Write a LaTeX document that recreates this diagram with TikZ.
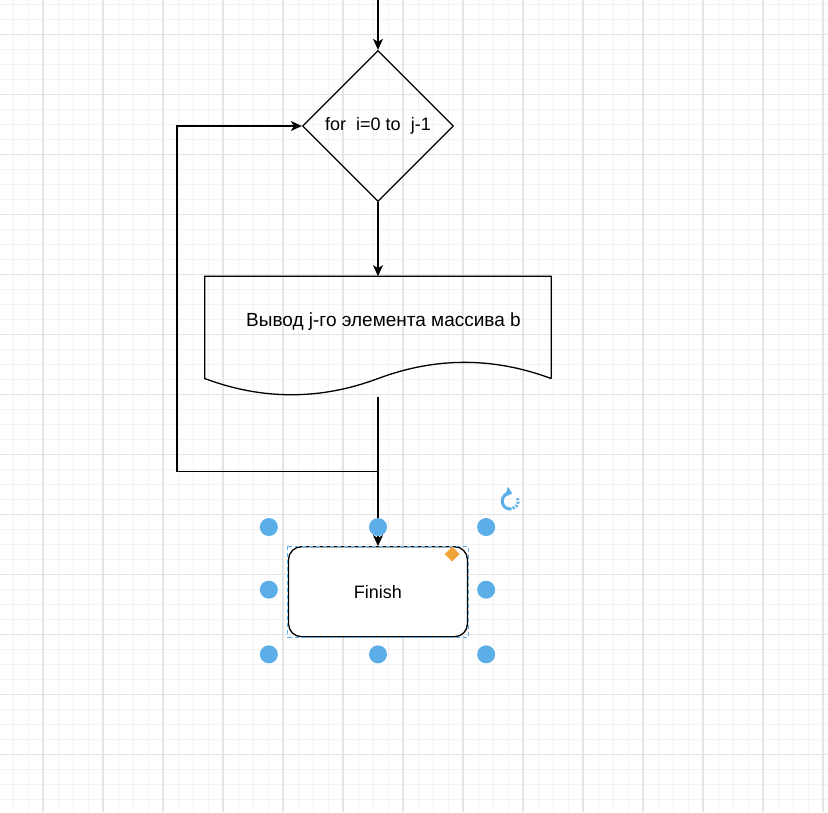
\documentclass[tikz,border=0pt]{standalone}
\usepackage{fontspec}
\setmainfont{Liberation Sans}
\usetikzlibrary{shapes.geometric, arrows.meta, positioning, calc}
\definecolor{gridmajor}{HTML}{E4E4E4}
\definecolor{gridminor}{HTML}{F3F3F3}
\definecolor{handleblue}{HTML}{5BAEE8}
\definecolor{handleorange}{HTML}{F2A33A}

\begin{document}
\begin{tikzpicture}[
    x=1pt, y=-1pt,
    font=\fontsize{18}{21}\selectfont,
    line/.style={line width=1.3pt, black},
    arrow/.style={line, -{Stealth[length=11pt, width=10pt, inset=3pt]}},
    decision/.style={diamond, draw, line width=1.3pt, minimum width=151pt, minimum height=151pt, inner sep=0pt, aspect=1},
    docbox/.style={rectangle, minimum width=346pt, minimum height=90pt, inner sep=0pt, font=\fontsize{19}{22}\selectfont},
    terminal/.style={rectangle, draw, line width=1.3pt, rounded corners=13pt, minimum width=179pt, minimum height=90pt, fill=white},
    handle/.style={circle, fill=handleblue, minimum size=18pt, inner sep=0pt},
    knob/.style={diamond, fill=handleorange, minimum size=15pt, inner sep=0pt}
]

\useasboundingbox (0,0) rectangle (828,812);
\fill[white] (0,0) rectangle (828,812);

% Grid
\foreach \x in {13,28,...,823} \draw[gridminor, line width=1pt] (\x,0) -- (\x,812);
\foreach \y in {4.3,19.3,...,812} \draw[gridminor, line width=1pt] (0,\y) -- (828,\y);
\foreach \x in {43,103,...,823} \draw[gridmajor, line width=1.3pt] (\x,0) -- (\x,812);
\foreach \y in {34.3,94.3,...,812} \draw[gridmajor, line width=1.3pt] (0,\y) -- (828,\y);

% Blocks
\node[decision] (loop) at (378,126) {for~~i=0 to~~j-1};
\node[docbox, below=74pt of loop] (output) {\hspace*{11pt}Вывод j-го элемента массива b};
\node[terminal, below=179.5pt of output] (finish) {Finish};

% Document outline
\draw[line] ($(output.south east)+(0,12)$) -- (output.north east) -- (output.north west)
    -- ($(output.south west)+(0,12)$)
    .. controls +(57.67,21.6) and +(-57.67,21.6) .. ($(output.south)+(0,12)$)
    .. controls +(57.67,-21.6) and +(-57.67,-21.6) .. ($(output.south east)+(0,12)$);

% Helper points
\coordinate (entry) at ($(loop.north)+(0,-52)$);
\coordinate (outbot) at ($(output.south)+(0,30)$);
\coordinate (join) at ($(outbot)+(0,75)$);
\coordinate (back) at ($(join)+(-201,0)$);

% Arrows
\draw[arrow] (entry) -- (loop.north);
\draw[arrow] (loop.south) -- (output.north);
\draw[line] (outbot) -- (join);
\draw[arrow] (join) -- (finish.north);
\draw[arrow] (join) -- (back) |- (loop.west);

% Selection
\draw[handleblue, line width=1pt, dash pattern=on 4pt off 3pt] (finish.north west) rectangle (finish.south east);
\foreach \a/\dx/\dy [count=\i] in {north west/-19/-19, north/0/-19, north east/18/-19,
    west/-19/-2, east/18/-2, south west/-19/17, south/0/17, south east/18/17}
    \node[handle] (handle\i) at ($(finish.\a)+(\dx,\dy)$) {};
\node[knob] (shapeknob) at ($(finish.north east)+(-16,8)$) {};

% Rotate icon
\coordinate (rotor) at ($(finish.north east)+(42,-45)$);
\draw[handleblue, line width=3pt, -{Triangle[length=6pt, width=10pt]}]
    ($(rotor)+(-80:8pt)$) arc[start angle=-80, end angle=-285, radius=8pt];
\draw[handleblue, line width=3pt, dash pattern=on 2pt off 1.5pt]
    ($(rotor)+(20:8pt)$) arc[start angle=20, end angle=-75, radius=8pt];

\end{tikzpicture}
\end{document}
